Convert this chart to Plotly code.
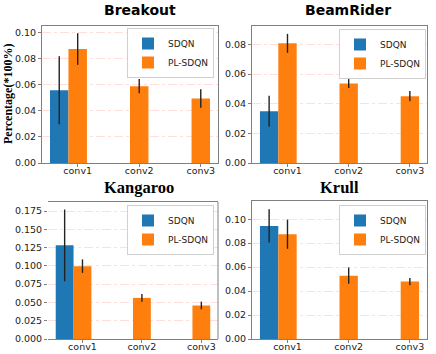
import plotly.graph_objects as go

# categories / positions
layers = ["conv1", "conv2", "conv3"]
pos_pl = [0, 1, 2]
pos_sdqn = [-0.3, 0.7, 1.7]

games = ["Breakout", "BeamRider", "Kangaroo", "Krull"]

sdqn_mean = {
    "Breakout": [0.0557, 0.0, 0.0],
    "BeamRider": [0.0349, 0.0, 0.0],
    "Kangaroo": [0.128, 0.0, 0.0],
    "Krull": [0.0944, 0.0, 0.0],
}
sdqn_err = {
    "Breakout": [0.026, 0.0, 0.0],
    "BeamRider": [0.0105, 0.0, 0.0],
    "Kangaroo": [0.049, 0.0, 0.0],
    "Krull": [0.0139, 0.0, 0.0],
}
pl_mean = {
    "Breakout": [0.0872, 0.0588, 0.0494],
    "BeamRider": [0.0807, 0.0536, 0.0451],
    "Kangaroo": [0.0996, 0.0562, 0.0458],
    "Krull": [0.0875, 0.0529, 0.0479],
}
pl_err = {
    "Breakout": [0.0121, 0.0055, 0.0071],
    "BeamRider": [0.0064, 0.003, 0.0034],
    "Kangaroo": [0.0092, 0.0052, 0.0053],
    "Krull": [0.0122, 0.0068, 0.003],
}

BLUE = "#1f77b4"
ORANGE = "#ff7f0e"
SPINE = "#808080"
FONT = "DejaVu Sans"
SANS_BOLD = "DejaVu Sans, Arial, sans-serif"
SERIF = "Liberation Serif, Times New Roman, serif"

W, H = 436, 354

# pixel boxes: (left, right, top, bottom)
boxes = {
    "Breakout": (42, 218, 26, 163),
    "BeamRider": (252, 427, 26, 163),
    "Kangaroo": (48, 218, 202, 339),
    "Krull": (252, 427, 201, 339),
}
yranges = {
    "Breakout": (0.1048, 0.02, ".2f"),
    "BeamRider": (0.0924, 0.02, ".2f"),
    "Kangaroo": (0.1873, 0.025, ".3f"),
    "Krull": (0.1152, 0.02, ".2f"),
}
titles = {
    "Breakout": (140, 10, SANS_BOLD, 14),
    "BeamRider": (348, 10, SANS_BOLD, 14),
    "Kangaroo": (139, 187, SERIF, 16.5),
    "Krull": (339, 187, SERIF, 16.5),
}
legend_pos = {
    "Breakout": (214, 28),
    "BeamRider": (426, 29),
    "Kangaroo": (214, 205),
    "Krull": (426, 205),
}

fig = go.Figure()
layout = {}
annotations = []
shapes = []

for i, g in enumerate(games):
    n = "" if i == 0 else str(i + 1)
    xa, ya = "x" + n, "y" + n
    leg = "legend" + n
    l, r, t, b = boxes[g]

    fig.add_trace(go.Bar(
        x=pos_sdqn, y=sdqn_mean[g], width=0.3, name="SDQN",
        marker=dict(color=BLUE, line=dict(width=0)),
        error_y=dict(type="data", array=sdqn_err[g], color="#222", thickness=1.4, width=0),
        xaxis=xa, yaxis=ya, legend=leg,
    ))
    fig.add_trace(go.Bar(
        x=pos_pl, y=pl_mean[g], width=0.3, name="PL-SDQN",
        marker=dict(color=ORANGE, line=dict(width=0)),
        error_y=dict(type="data", array=pl_err[g], color="#222", thickness=1.4, width=0),
        xaxis=xa, yaxis=ya, legend=leg,
    ))

    ytop, dtick, fmt = yranges[g]
    left_line = g != "Kangaroo"
    layout["xaxis" + n] = dict(
        domain=[l / W, r / W], anchor=ya, range=[-0.58, 2.28],
        tickvals=pos_pl, ticktext=layers, ticks="outside", ticklen=3,
        ticklabelstandoff=-4,
        tickcolor=SPINE, showline=True, linecolor=SPINE, linewidth=1,
        mirror=True, showgrid=False, zeroline=False, automargin=False,
        tickfont=dict(family=FONT, size=9.5, color="#222"),
    )
    layout["yaxis" + n] = dict(
        domain=[1 - b / H, 1 - t / H], anchor=xa, range=[0, ytop],
        dtick=dtick, tick0=0, tickformat=fmt, ticks="outside", ticklen=3,
        tickcolor=SPINE, showline=left_line, linecolor=SPINE, linewidth=1,
        mirror=left_line, zeroline=False, showgrid=True, automargin=False,
        gridcolor="rgba(255,0,0,0.13)", griddash="dashdot", gridwidth=1,
        tickfont=dict(family=FONT, size=9.5, color="#222"),
    )
    if not left_line:
        shapes.append(dict(type="line", xref=xa + " domain", yref=ya + " domain",
                           x0=1, x1=1, y0=0, y1=1,
                           line=dict(color=SPINE, width=1)))

    lx, ly = legend_pos[g]
    layout[leg] = dict(
        x=lx / W, y=1 - ly / H, xanchor="right", yanchor="top",
        bgcolor="rgba(255,255,255,0.9)", bordercolor="#d0d0d0", borderwidth=1,
        font=dict(family=FONT, size=9, color="#222"),
        itemwidth=30, tracegroupgap=0,
    )

    tx, ty, tfont, tsize = titles[g]
    annotations.append(dict(
        text=g, x=tx / W, y=1 - ty / H, xref="paper", yref="paper",
        showarrow=False, xanchor="center", yanchor="middle",
        font=dict(family=tfont, size=tsize, color="#000", weight="bold"),
    ))

annotations.append(dict(
    text="Percentage(*100%)", x=8 / W, y=1 - 94 / H, xref="paper", yref="paper",
    showarrow=False, textangle=-90, xanchor="center", yanchor="middle",
    font=dict(family=SERIF, size=12, color="#000", weight="bold"),
))

fig.update_layout(
    **layout,
    width=W, height=H,
    margin=dict(l=0, r=0, t=0, b=0, autoexpand=False),
    paper_bgcolor="white", plot_bgcolor="white",
    barmode="overlay", showlegend=True,
    annotations=annotations, shapes=shapes,
)

fig.write_html(
    "out.html",
    config={"displayModeBar": False},
    post_script="document.body.style.margin='0';document.body.style.overflow='hidden';",
)
